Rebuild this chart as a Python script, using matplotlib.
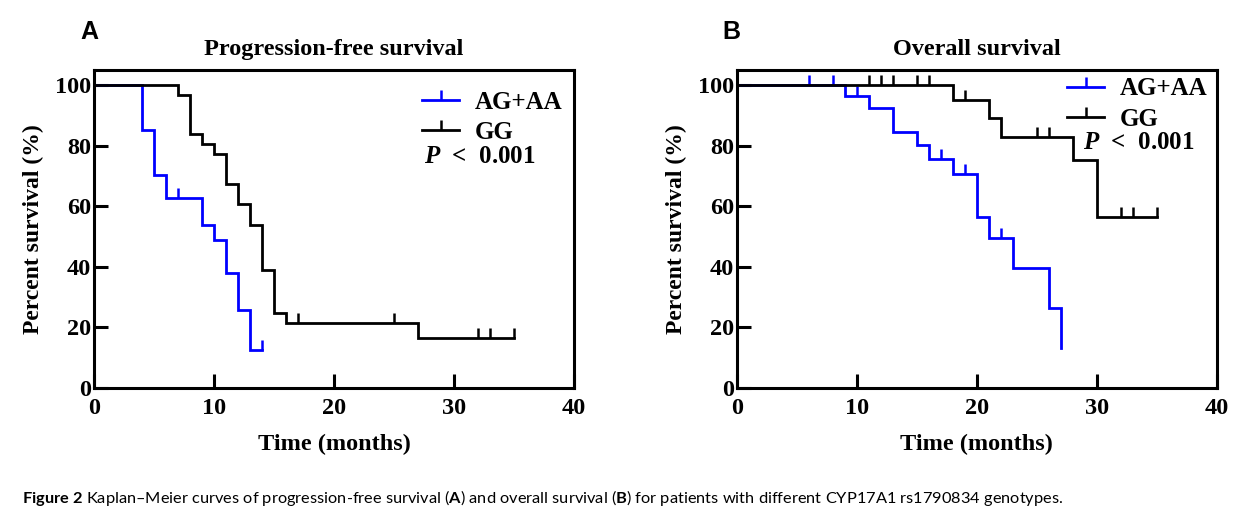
import numpy as np
import matplotlib
matplotlib.use("Agg")
import matplotlib.pyplot as plt
from matplotlib.lines import Line2D

plt.rcParams['font.family'] = ['Liberation Serif', 'DejaVu Serif']
plt.rcParams['font.weight'] = 'bold'
plt.rcParams['mathtext.fontset'] = 'custom'
plt.rcParams['mathtext.rm'] = 'Lato'
plt.rcParams['mathtext.bf'] = 'Lato:bold'
plt.rcParams['mathtext.it'] = 'Liberation Serif:italic:bold'

# Progression-free survival (A)
pfs_ag_t = [4, 5, 6, 9, 10, 11, 12, 13]
pfs_ag_s = [85.1, 70.3, 62.6, 53.8, 48.8, 38.1, 25.7, 12.5]
pfs_ag_end = 14
pfs_ag_cens = [7, 14]

pfs_gg_t = [7, 8, 9, 10, 11, 12, 13, 14, 15, 16, 27]
pfs_gg_s = [96.9, 84.0, 80.5, 77.2, 67.5, 60.9, 53.8, 39.1, 24.9, 21.3, 16.4]
pfs_gg_end = 35
pfs_gg_cens = [17, 25, 32, 33, 35]

# Overall survival (B)
os_ag_t = [9, 11, 13, 15, 16, 18, 20, 21, 23, 26, 27]
os_ag_s = [96.4, 92.5, 84.6, 80.4, 75.6, 70.6, 56.5, 49.4, 39.5, 26.3, 13.1]
os_ag_end = 27
os_ag_cens = [6, 8, 10, 17, 19, 22]

os_gg_t = [18, 21, 22, 28, 30]
os_gg_s = [95.0, 89.0, 83.0, 75.2, 56.5]
os_gg_end = 35
os_gg_cens = [11, 12, 13, 15, 16, 19, 25, 26, 32, 33, 35]

groups = ['AG+AA', 'GG']
colors = ['#0000ff', 'black']
titles = ['Progression-free survival', 'Overall survival']
letters = ['A', 'B']
xticks = [0, 10, 20, 30, 40]
yticks = [0, 20, 40, 60, 80, 100]

W, H = 1237, 529
fig = plt.figure(figsize=(W / 100, H / 100), dpi=100)
fig.patch.set_facecolor('white')


def km(ax, t, s, end, cens, color):
    tt = [0] + list(t)
    ss = [100] + list(s)
    if end > tt[-1]:
        tt.append(end)
        ss.append(ss[-1])
    ax.step(tt, ss, where='post', color=color, lw=2.0, solid_joinstyle='miter')
    tt = np.array(tt)
    ss = np.array(ss)
    cy = [ss[np.searchsorted(tt, c, side='right') - 1] for c in cens]
    ax.plot(cens, cy, ls='none', marker=2, ms=7, mew=1.8, color=color)


panels = [
    [(pfs_ag_t, pfs_ag_s, pfs_ag_end, pfs_ag_cens), (pfs_gg_t, pfs_gg_s, pfs_gg_end, pfs_gg_cens)],
    [(os_ag_t, os_ag_s, os_ag_end, os_ag_cens), (os_gg_t, os_gg_s, os_gg_end, os_gg_cens)],
]
lefts = [94 / W, 736.7 / W]
leg_anchor = [(0.683, 0.935), (0.688, 0.977)]
p_pos = [(0.687, 0.727), (0.721, 0.772)]

for i, ax_left in enumerate(lefts):
    ax = fig.add_axes([ax_left, 141 / H, 480 / W, 318 / H])
    for (t, s, end, cens), c in zip(panels[i], colors):
        km(ax, t, s, end, cens, c)
    ax.set_xlim(0, 40)
    ax.set_ylim(0, 105)
    ax.set_xticks(xticks)
    ax.set_yticks(yticks)
    for sp in ax.spines.values():
        sp.set_linewidth(2.2)
    ax.tick_params(direction='in', length=10, width=2.2, labelsize=17.5)
    ax.tick_params(axis='x', pad=7)
    ax.tick_params(axis='y', pad=2)
    ax.set_xlabel('Time (months)', fontsize=17.5, fontweight='bold', labelpad=11)
    ax.set_ylabel('Percent survival (%)', fontsize=17, fontweight='bold', labelpad=8)
    ax.set_title(titles[i], fontsize=17.5, fontweight='bold', pad=11)
    fig.text(ax_left - 14 / W, 1 - 32 / H, letters[i], fontsize=18, fontweight='bold',
             family='Liberation Sans', va='center')
    handles = [Line2D([], [], color=c, lw=2.0, marker=2, ms=7, mew=1.8) for c in colors]
    ax.legend(handles, groups, loc='upper left', bbox_to_anchor=leg_anchor[i],
              frameon=False, numpoints=1, handlelength=1.5, handletextpad=0.6,
              borderpad=0, borderaxespad=0, labelspacing=0.3,
              prop={'family': 'Liberation Serif', 'weight': 'bold', 'size': 18})
    ax.text(p_pos[i][0], p_pos[i][1], r'$\mathit{P}$  <  0.001', transform=ax.transAxes,
            fontsize=18, fontweight='bold', va='center')

fig.text(22 / W, 1 - 498 / H,
         r'$\mathbf{Figure\ 2}$ Kaplan–Meier curves of progression-free survival ($\mathbf{A}$) and overall survival '
         r'($\mathbf{B}$) for patients with different CYP17A1 rs1790834 genotypes.',
         fontsize=11.8, family='Lato', fontweight='normal', va='center')

fig.savefig('out.png', dpi=100)
